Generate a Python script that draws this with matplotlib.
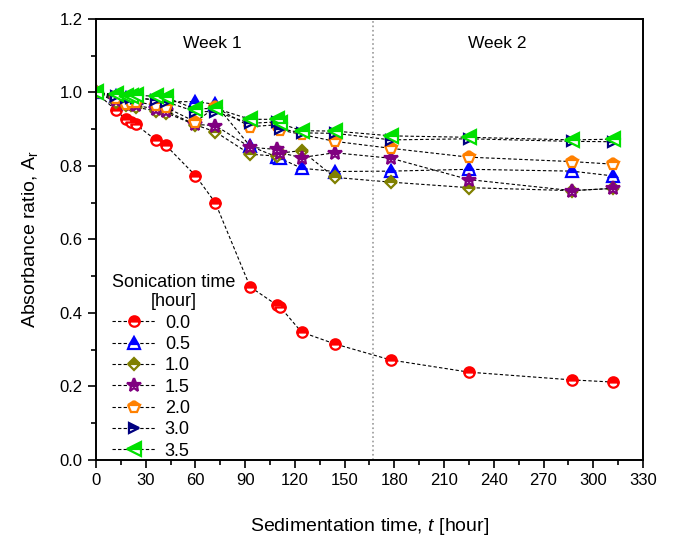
import numpy as np
import matplotlib
matplotlib.use("Agg")
import matplotlib.pyplot as plt
from matplotlib.ticker import MultipleLocator

plt.rcParams['font.family'] = ['Liberation Sans', 'DejaVu Sans']
plt.rcParams['mathtext.fontset'] = 'custom'
plt.rcParams['mathtext.rm'] = 'Liberation Sans'
plt.rcParams['mathtext.it'] = 'Liberation Sans:italic'

# sedimentation times [hour]
t = [0, 12, 18, 21, 24, 36, 42, 60, 72, 93, 109, 111, 124, 144, 178, 225, 287, 312]

son_labels = ['0.0', '0.5', '1.0', '1.5', '2.0', '3.0', '3.5']
a_00 = [1.0, 0.952, 0.927, 0.920, 0.913, 0.871, 0.857, 0.774, 0.700, 0.471, 0.422, 0.417,
        0.348, 0.316, 0.272, 0.239, 0.218, 0.212]
a_05 = [1.0, 0.99, 0.985, 0.985, 0.985, 0.98, 0.975, 0.975, 0.968, 0.854, 0.825, 0.821,
        0.794, 0.785, 0.786, 0.791, 0.786, 0.773]
a_10 = [1.0, 0.975, 0.965, 0.965, 0.96, 0.95, 0.945, 0.912, 0.893, 0.832, 0.827, 0.835,
        0.842, 0.769, 0.756, 0.741, 0.733, 0.739]
a_15 = [1.0, 0.98, 0.97, 0.97, 0.965, 0.955, 0.95, 0.913, 0.91, 0.851, 0.845, 0.836,
        0.823, 0.836, 0.821, 0.763, 0.733, 0.739]
a_20 = [1.0, 0.985, 0.97, 0.975, 0.975, 0.965, 0.96, 0.92, 0.96, 0.907, 0.912, 0.898,
        0.886, 0.867, 0.848, 0.824, 0.812, 0.805]
a_30 = [1.0, 0.99, 0.985, 0.985, 0.985, 0.98, 0.975, 0.948, 0.948, 0.916, 0.92, 0.902,
        0.89, 0.889, 0.871, 0.874, 0.867, 0.866]
a_35 = [1.0, 0.995, 0.99, 0.99, 0.992, 0.99, 0.987, 0.955, 0.957, 0.927, 0.927, 0.916,
        0.896, 0.895, 0.882, 0.878, 0.871, 0.873]

series = [a_00, a_05, a_10, a_15, a_20, a_30, a_35]
colors = ['#ff0000', '#0000ff', '#808000', '#800080', '#ff8000', '#000080', '#00e000']
markers = ['o', '^', 'D', '*', 'p', '>', '<']
sizes = [7.5, 8.5, 6.5, 10, 8.5, 7.5, 9.5]

fig = plt.figure(figsize=(6.74, 5.38), dpi=100)
ax = fig.add_axes([0.1424, 0.145, 0.954 - 0.1424, 0.9647 - 0.145])

for ys, c, m, s, lab in zip(series, colors, markers, sizes, son_labels):
    ax.plot(t, ys, linestyle=(0, (3, 2)), color='black', linewidth=0.8,
            marker=m, markersize=s, markeredgecolor=c, markerfacecolor=c,
            markerfacecoloralt='white', fillstyle='top', markeredgewidth=1.6,
            label=lab)

ax.axvline(167, color='#999999', linestyle=':', linewidth=1.2)
ax.text(70, 1.132, 'Week 1', fontsize=12.5, ha='center', va='center')
ax.text(242, 1.132, 'Week 2', fontsize=12.5, ha='center', va='center')

ax.set_xlim(0, 330)
ax.set_ylim(0, 1.2)
ax.xaxis.set_major_locator(MultipleLocator(30))
ax.xaxis.set_minor_locator(MultipleLocator(15))
ax.yaxis.set_major_locator(MultipleLocator(0.2))
ax.yaxis.set_minor_locator(MultipleLocator(0.1))
ax.yaxis.set_major_formatter(plt.FormatStrFormatter('%.1f'))
ax.tick_params(which='major', direction='out', length=6, width=1.2, labelsize=12)
ax.tick_params(which='minor', direction='out', length=3.5, width=1.2)
for sp in ax.spines.values():
    sp.set_linewidth(1.4)

ax.set_xlabel('Sedimentation time, $t$ [hour]', fontsize=14, labelpad=20)
ax.set_ylabel('Absorbance ratio, A$_\\mathrm{r}$', fontsize=14, labelpad=14)

leg = ax.legend(title='Sonication time\n[hour]', loc='lower left',
                bbox_to_anchor=(0.012, -0.022), frameon=False, fontsize=13,
                title_fontsize=13, handlelength=2.4, handletextpad=0.5,
                labelspacing=0.24, borderaxespad=0.15)
leg.get_title().set_multialignment('center')
leg._legend_box.align = 'left'

fig.savefig('out.png', dpi=100)
